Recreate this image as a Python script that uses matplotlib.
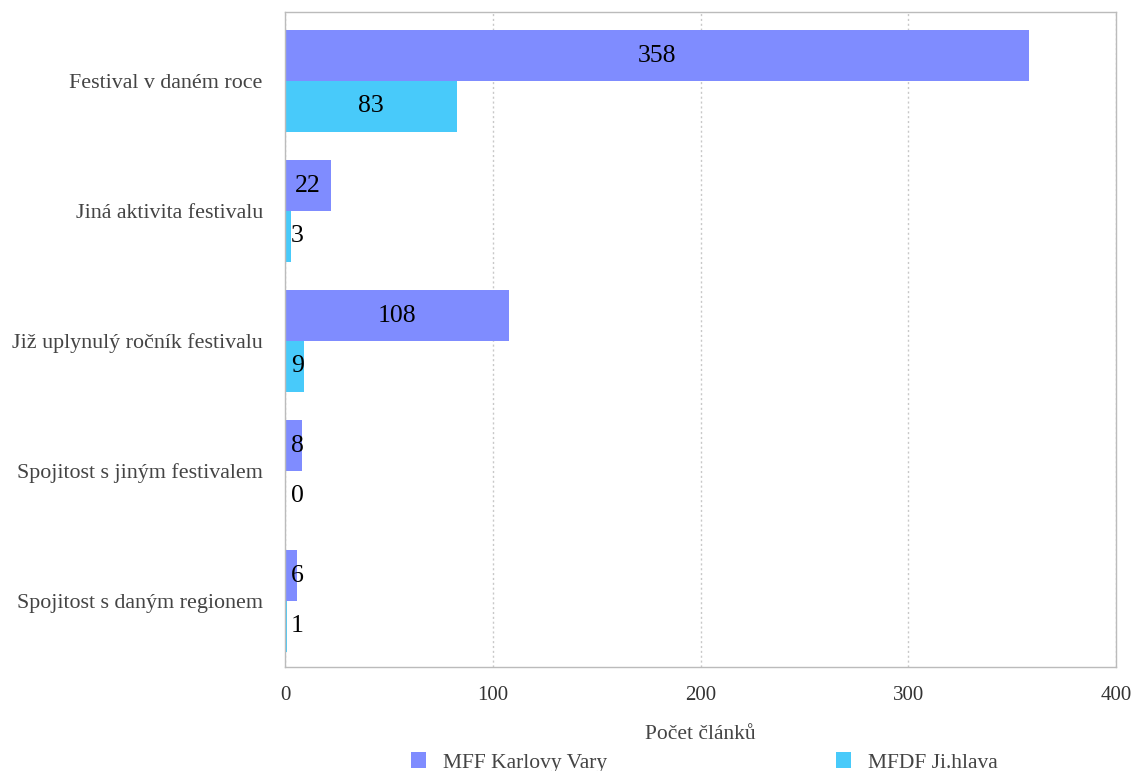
import matplotlib
matplotlib.use("Agg")
import matplotlib.pyplot as plt
import numpy as np
from matplotlib.patches import Patch

categories = [
    "Festival v daném roce",
    "Jiná aktivita festivalu",
    "Již uplynulý ročník festivalu",
    "Spojitost s jiným festivalem",
    "Spojitost s daným regionem",
]
series_names = ["MFF Karlovy Vary", "MFDF Ji.hlava"]
karlovy_vary = [358, 22, 108, 8, 6]
jihlava = [83, 3, 9, 0, 1]
x_ticks = [0, 100, 200, 300, 400]

colors = ["#7f8cff", "#48cafa"]

plt.rcParams["font.family"] = ["Liberation Serif", "DejaVu Serif"]

fig = plt.figure(figsize=(11.36, 7.71), dpi=100)
ax = fig.add_axes([0.2509, 0.1349, 0.9824 - 0.2509, 0.9844 - 0.1349])

y = np.arange(len(categories))
h = 0.39
for k, (vals, col) in enumerate(zip([karlovy_vary, jihlava], colors)):
    offs = -h / 2 if k == 0 else h / 2
    ax.barh(y + offs, vals, height=h, color=col, zorder=2)
    for yi, v in zip(y + offs, vals):
        ax.text(max(v / 2, 6), yi, str(v), ha="center", va="center",
                fontsize=18.5, color="black", zorder=3)

ax.set_xlim(0, 400)
ax.set_ylim(len(categories) - 1 + 0.508, -0.53)
ax.set_xticks(x_ticks)
ax.set_xticklabels([str(t) for t in x_ticks], fontsize=15, color="#333333")
ax.set_yticks(y)
ax.set_yticklabels(categories, fontsize=15.8, color="#444444")
ax.tick_params(axis="both", length=0)
ax.tick_params(axis="x", pad=14)
ax.tick_params(axis="y", pad=16)
ax.grid(axis="x", linestyle=(0, (1.5, 2)), color="#c8c8c8", linewidth=1, zorder=0)
for s in ax.spines.values():
    s.set_color("#bbbbbb")
    s.set_linewidth(1)

ax.set_xlabel("Počet článků", fontsize=15.5, color="#444444", labelpad=14)

handles = [Patch(facecolor=c, edgecolor="none") for c in colors]
fig.legend(handles, series_names, loc="center", bbox_to_anchor=(0.62, 0.011),
           ncol=2, frameon=False, fontsize=15.5, handlelength=0.7, handleheight=0.7,
           columnspacing=10.6, handletextpad=0.8, labelcolor="#444444",
           borderpad=0, borderaxespad=0)

fig.savefig("out.png", dpi=100)
